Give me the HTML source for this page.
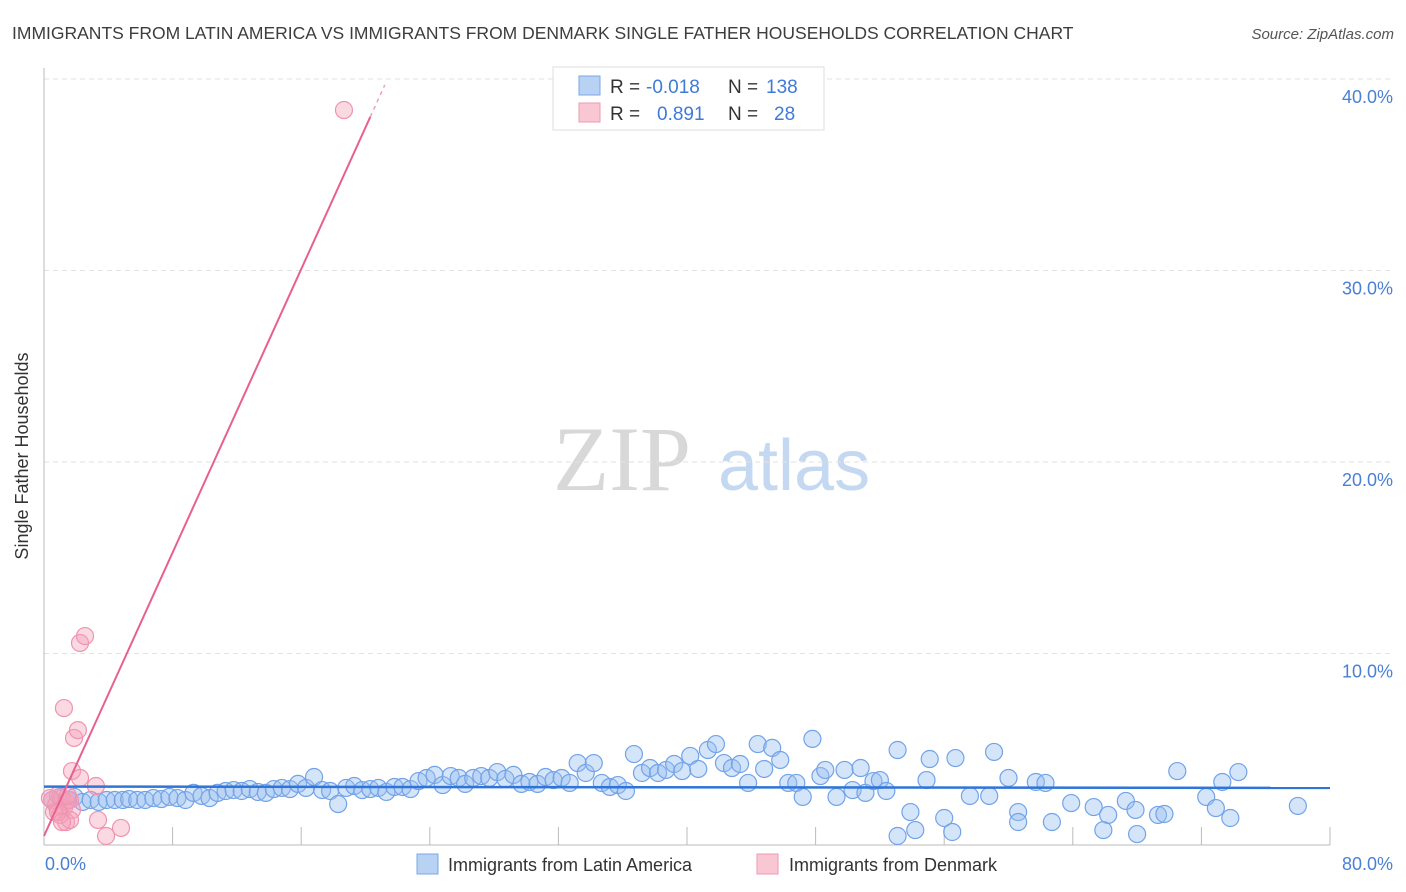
<!DOCTYPE html>
<html><head><meta charset="utf-8"><style>
body{margin:0;background:#fff;font-family:"Liberation Sans",sans-serif;}
svg{display:block}
</style></head><body>
<svg id="chart" width="1406" height="892" viewBox="0 0 1406 892">
<text x="12" y="39" font-size="17.5" fill="#3d3d3d">IMMIGRANTS FROM LATIN AMERICA VS IMMIGRANTS FROM DENMARK SINGLE FATHER HOUSEHOLDS CORRELATION CHART</text>
<text x="1394" y="39" font-size="15" fill="#555" text-anchor="end" font-style="italic">Source: ZipAtlas.com</text>
<g>
<text x="553" y="490" font-size="92" font-family="Liberation Serif,serif" fill="#d8d8d8">ZIP</text>
<text x="718" y="490" font-size="72" fill="#c5d8f1">atlas</text>
</g>
<g id="grid"></g>
<g id="axes"></g>
<g id="pts"></g>
<g id="lines"></g>
<text x="28" y="456" font-size="18" fill="#333" text-anchor="middle" transform="rotate(-90 28 456)">Single Father Households</text>
<text x="45" y="870" font-size="18" fill="#4a7fd6">0.0%</text>
<text x="1393" y="870" font-size="18" fill="#4a7fd6" text-anchor="end">80.0%</text>
<g>
<rect x="553" y="67" width="271" height="63" fill="#fff" stroke="#ddd"/>
<rect x="579" y="76" width="21" height="19" fill="#b8d2f4" stroke="#7aa7e6"/>
<rect x="579" y="103" width="21" height="19" fill="#f9c6d4" stroke="#ee99b3"/>
<text x="610" y="93" font-size="19" fill="#333">R = </text><text x="646" y="93" font-size="19" fill="#3f7ad8">-0.018</text>
<text x="728" y="93" font-size="19" fill="#333">N = </text><text x="766" y="93" font-size="19" fill="#3f7ad8">138</text>
<text x="610" y="120" font-size="19" fill="#333">R = </text><text x="657" y="120" font-size="19" fill="#3f7ad8">0.891</text>
<text x="728" y="120" font-size="19" fill="#333">N = </text><text x="774" y="120" font-size="19" fill="#3f7ad8">28</text>
</g>
<g>
<rect x="417" y="854" width="21" height="20" fill="#b8d2f4" stroke="#7aa7e6"/>
<text x="448" y="871" font-size="18" fill="#333">Immigrants from Latin America</text>
<rect x="757" y="854" width="21" height="20" fill="#f9c6d4" stroke="#ee99b3"/>
<text x="789" y="871" font-size="18" fill="#333">Immigrants from Denmark</text>
</g>
</svg>
<script>
const blueX=[0.5,1.0,1.5,1.9,2.4,2.9,3.4,3.9,4.4,4.9,5.3,5.8,6.3,6.8,7.3,7.8,8.3,8.8,9.3,9.8,10.3,10.8,11.3,11.8,12.3,12.8,13.3,13.8,14.3,14.8,15.3,15.8,16.3,16.8,17.3,17.8,18.3,18.8,19.3,19.8,20.3,20.8,21.3,21.8,22.3,22.8,23.3,23.8,24.3,24.8,25.3,25.8,26.2,26.7,27.2,27.7,28.2,28.7,29.2,29.7,30.2,30.7,31.2,31.7,32.2,32.7,33.2,33.7,34.2,34.7,35.2,35.7,36.2,36.7,37.2,37.7,38.2,38.7,39.2,39.7,40.2,40.7,41.3,41.8,42.3,42.8,43.3,43.8,44.4,44.8,45.3,45.8,46.3,46.8,47.2,47.8,48.3,48.6,49.3,49.8,50.3,50.8,51.1,51.6,52.0,52.4,53.1,53.9,54.2,54.9,55.1,56.0,56.5,56.7,57.6,58.8,59.1,60.0,60.6,60.6,61.7,62.3,62.7,63.9,65.3,65.9,66.2,67.3,67.9,68.0,69.3,69.7,70.5,72.3,72.9,73.3,73.8,74.3,78.0,53.1];
const blueY=[2.35,2.51,2.35,2.51,2.25,2.35,2.25,2.35,2.35,2.35,2.4,2.35,2.35,2.45,2.4,2.51,2.45,2.35,2.72,2.56,2.45,2.72,2.82,2.87,2.82,2.92,2.77,2.72,2.92,2.98,2.92,3.19,2.98,3.55,2.87,2.82,2.14,2.98,3.08,2.87,2.92,2.98,2.77,3.03,3.03,2.92,3.34,3.5,3.66,3.13,3.6,3.5,3.19,3.5,3.6,3.5,3.81,3.45,3.66,3.19,3.29,3.19,3.55,3.39,3.5,3.24,4.28,3.76,4.28,3.24,3.03,3.13,2.82,4.75,3.76,4.02,3.76,3.92,4.23,3.86,4.65,3.97,4.96,5.27,4.28,4.02,4.23,3.24,5.27,3.97,5.07,4.44,3.24,3.24,2.51,5.54,3.6,3.92,2.51,3.92,2.87,4.02,2.72,3.34,3.39,2.82,4.96,1.72,0.78,3.39,4.49,1.41,0.68,4.54,2.56,2.56,4.86,3.5,1.72,1.2,3.29,3.24,1.2,2.19,1.98,0.78,1.57,2.3,1.83,0.57,1.57,1.62,3.86,2.51,1.93,3.29,1.41,3.81,2.04,0.47];
const pinkX=[0.5,0.75,0.87,1.12,1.24,1.37,1.62,1.74,1.0,1.37,1.62,0.62,1.24,1.87,2.11,1.74,2.24,3.23,2.24,2.55,3.36,3.86,4.79,18.66,0.37,0.87,1.49,1.12];
const pinkY=[2.35,2.09,2.61,2.45,1.93,2.25,2.35,1.83,1.57,1.2,1.31,1.72,7.15,5.59,6.0,3.86,3.5,3.08,10.55,10.91,1.31,0.47,0.89,38.38,2.45,1.72,2.56,1.2];
const yTicks=[10,20,30,40];
const yTickLabels=["10.0%","20.0%","30.0%","40.0%"];
const xTicks=[8,16,24,32,40,48,56,64,72,80];
const blueTrend=[3.05,2.98];
const pinkTrend=[0.47,1.85];
const NS='http://www.w3.org/2000/svg';
const X0=44,X1=1330,Y0=845,PX=19.15;
const sx=v=>X0+(v/80)*(X1-X0);
const sy=v=>Y0-v*PX;
function mk(tag,attrs,parent){const e=document.createElementNS(NS,tag);for(const k in attrs)e.setAttribute(k,attrs[k]);document.getElementById(parent).appendChild(e);return e;}
yTicks.forEach((t,i)=>{
 const g=mk('line',{x1:X0,x2:1394,y1:sy(t),y2:sy(t),stroke:'#e2e2e2','stroke-dasharray':'5,4'},'grid');
 
 
 const l=mk('text',{x:1393,y:sy(t)+24,'font-size':18,fill:'#4a7fd6','text-anchor':'end'},'grid');
 l.textContent=yTickLabels[i];
 
 
});
const ya=mk('line',{x1:X0,x2:X0,y1:68,y2:Y0,stroke:'#bbb'},'axes');


const xa=mk('line',{x1:X0,x2:X1,y1:Y0,y2:Y0,stroke:'#bbb'},'axes');


xTicks.forEach(t=>{
 const k=mk('line',{x1:sx(t),x2:sx(t),y1:Y0-18,y2:Y0,stroke:'#bbb'},'axes');
 
 
});
blueX.forEach((x,i)=>{
 const c=mk('circle',{cx:sx(x),cy:sy(blueY[i]),r:8.5,fill:'rgba(150,190,240,0.4)',stroke:'#72a3e8','stroke-width':1.2},'pts');
 
 
});
pinkX.forEach((x,i)=>{
 const c=mk('circle',{cx:sx(x),cy:sy(pinkY[i]),r:8.5,fill:'rgba(245,160,186,0.4)',stroke:'#ef94b0','stroke-width':1.2},'pts');
 
 
});
const bl=mk('line',{x1:sx(0),y1:sy(blueTrend[0]),x2:sx(80),y2:sy(blueTrend[1]),stroke:'#2f74d8','stroke-width':2.5},'lines');


const xe=20.3,xd=21.2;
const pl=mk('line',{x1:sx(0),y1:sy(pinkTrend[0]),x2:sx(xe),y2:sy(pinkTrend[0]+pinkTrend[1]*xe),stroke:'#e8608f','stroke-width':2},'lines');


const pd=mk('line',{x1:sx(xe),y1:sy(pinkTrend[0]+pinkTrend[1]*xe),x2:sx(xd),y2:sy(pinkTrend[0]+pinkTrend[1]*xd),stroke:'#f0a0bb','stroke-width':1.5,'stroke-dasharray':'4,4'},'lines');


</script>
</body></html>
